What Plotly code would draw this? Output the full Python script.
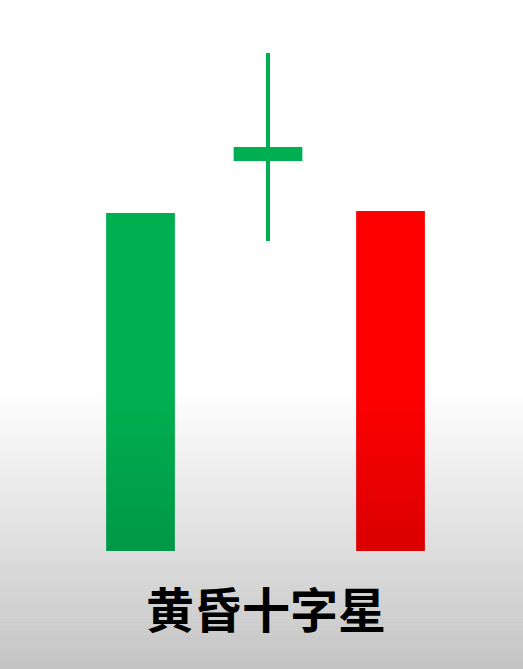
import plotly.graph_objects as go

# Candle data (price units)
candles = ["阳线", "十字星", "阴线"]
x_pos = [1, 2.02, 3]
open_p = [100.0, 139.0, 134.0]
close_p = [133.8, 140.4, 100.0]
high_p = [133.8, 149.8, 134.0]
low_p = [100.0, 131.0, 100.0]
title_text = "黄昏十字星"

GREEN = "#00B050"
GREEN_DARK = "#009848"
RED = "#FF0000"
RED_DARK = "#DA0000"
BODY_W = 0.55
WICK_W = 0.032

fig = go.Figure()

for name, xc, o, c, h, l in zip(candles, x_pos, open_p, close_p, high_p, low_p):
    up = c >= o
    col = GREEN if up else RED
    dark = GREEN_DARK if up else RED_DARK
    lo, hi = min(o, c), max(o, c)
    # wick
    fig.add_trace(go.Bar(x=[xc], y=[h - l], base=[l], width=WICK_W,
                         marker=dict(color=col, line=dict(width=0)),
                         hoverinfo="skip", showlegend=False))
    # body with vertical gradient (darker towards the bottom of the page)
    xs = [xc - BODY_W / 2, xc + BODY_W / 2, xc + BODY_W / 2, xc - BODY_W / 2, xc - BODY_W / 2]
    ys = [lo, lo, hi, hi, lo]
    fig.add_trace(go.Scatter(
        x=xs, y=ys, mode="lines", fill="toself", line=dict(width=0, color=col),
        fillgradient=dict(type="vertical", start=100.0, stop=133.8,
                          colorscale=[[0, dark], [0.48, col], [1, col]]),
        name=name, hoverinfo="name", showlegend=False))

# background gradient (white -> grey, lower part of page)
shapes = []
n = 70
y0_frac = 1 - 390 / 669
for i in range(n):
    t0 = i / n
    t1 = (i + 1) / n
    tm = (t0 + t1) / 2
    v = int(round(255 - (255 - 196) * tm))
    shapes.append(dict(type="rect", xref="paper", yref="paper",
                       x0=0, x1=1,
                       y0=y0_frac * (1 - t1) - 0.001, y1=y0_frac * (1 - t0),
                       fillcolor=f"rgb({v},{v},{v})", line=dict(width=0),
                       layer="below"))

fig.update_layout(
    width=523, height=669,
    margin=dict(l=0, r=0, t=0, b=0),
    paper_bgcolor="white", plot_bgcolor="rgba(0,0,0,0)",
    barmode="overlay",
    bargap=0,
    shapes=shapes,
    xaxis=dict(range=[-0.124, 4.06], visible=False, fixedrange=True),
    yaxis=dict(range=[88.2, 155.1], visible=False, fixedrange=True),
    annotations=[dict(text=f"<b>{title_text}</b>", xref="paper", yref="paper",
                      x=266 / 523, y=1 - 607 / 669, xanchor="center", yanchor="middle",
                      showarrow=False,
                      font=dict(family="Noto Sans CJK SC", size=48, color="#000000"))],
)

fig.write_html("out.html", config={"displayModeBar": False})
